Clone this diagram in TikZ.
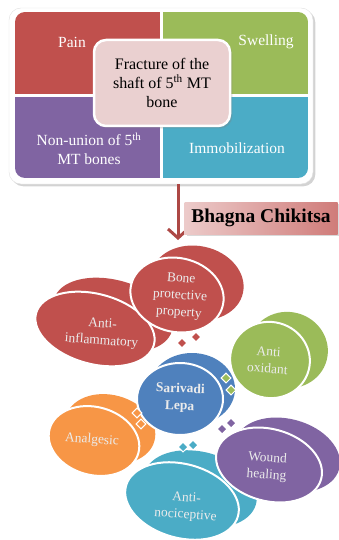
\documentclass[tikz,border=0pt]{standalone}
\usepackage{fontspec}
\setmainfont{Liberation Serif}
\usetikzlibrary{shapes.geometric,shadows,arrows.meta}
\definecolor{officeRed}{RGB}{192,80,77}
\definecolor{officeGreen}{RGB}{155,187,89}
\definecolor{officePurple}{RGB}{128,100,162}
\definecolor{officeTeal}{RGB}{75,172,198}
\definecolor{officeBlue}{RGB}{79,129,189}
\definecolor{officeOrange}{RGB}{247,150,70}
\definecolor{fracturePink}{RGB}{234,208,208}
\tikzset{
  quadText/.style={text=white,font=\fontsize{15.5}{19}\selectfont,align=center},
  bubbleBack/.style={ellipse,inner sep=0pt},
  bubbleFront/.style={ellipse,inner sep=0pt,draw=white,line width=2pt},
  bubbleText/.style={text=white!92!black,font=\fontsize{13.5}{17}\selectfont,align=center,rotate=-4,inner sep=1pt},
  toothPiece/.style={rectangle,minimum size=7pt,inner sep=0pt,draw=white,line width=1pt,rotate=45}
}
% #1 name, #2 colour, #3/#4 centre, #5/#6 size, #7/#8 offset of back, #9 tilt
\newcommand{\BubblePair}[9]{%
  \node[bubbleBack,fill=#2,minimum width=#5pt,minimum height=#6pt,rotate=#9] (#1Back) at (#3+#7,#4+#8) {};
  \node[bubbleFront,fill=#2,minimum width=#5pt,minimum height=#6pt,rotate=#9] (#1) at (#3,#4) {};}

\begin{document}
\begin{tikzpicture}[x=1pt,y=-1pt]
\useasboundingbox (0,0) rectangle (339,540);

% top panel
\node[draw=black!12,fill=white,rounded corners=12pt,minimum width=304pt,minimum height=176pt,
      drop shadow={opacity=0.35}] (topFrame) at (161,96) {};
\begin{scope}
  \clip[rounded corners=10pt] (15,12) rectangle (308,178);
  \fill[officeRed] (15,12) rectangle (160,94);
  \fill[officeGreen] (163,12) rectangle (308,94);
  \fill[officePurple] (15,97) rectangle (160,178);
  \fill[officeTeal] (163,97) rectangle (308,178);
\end{scope}
\node[quadText] (painText) at (72,42) {Pain};
\node[quadText] (swellingText) at (266,42) {Swelling};
\node[quadText] (nonunionText) at (89,149) {Non-union of 5\textsuperscript{th}\\MT bones};
\node[quadText] (immobText) at (237,148) {Immobilization};
\node[draw=white,line width=2.5pt,fill=fracturePink,rounded corners=12pt,minimum width=136pt,
      minimum height=86pt,align=center,font=\fontsize{16}{19}\selectfont,
      drop shadow={opacity=0.3}] (fractureBox) at (162,83)
      {Fracture of the\\shaft of 5\textsuperscript{th} MT\\bone};

% arrow and banner
\coordinate (arrowEnd) at (178,240);
\draw[officeRed!90!black,line width=3pt,-{Straight Barb[length=9pt,width=20pt]}]
  (arrowEnd |- topFrame.south) -- (arrowEnd);
\node[minimum width=153pt,minimum height=32pt,left color=officeRed!30!white,
      middle color=officeRed!12!white,right color=officeRed!75!white,
      font=\bfseries\fontsize{19.5}{22}\selectfont,drop shadow={opacity=0.3}]
      (chikitsaBanner) at (261,218) {Bhagna Chikitsa};

% bubbles
\BubblePair{inflamBubble}{officeRed}{95}{329}{122}{70}{18}{-14}{-15}
\BubblePair{boneBubble}{officeRed}{177}{295}{94}{74}{20}{-12}{-12}
\BubblePair{analgesicBubble}{officeOrange}{94}{441}{92}{68}{16}{-12}{-15}
\BubblePair{nociBubble}{officeTeal}{182}{501}{116}{74}{18}{-12}{-15}
\BubblePair{woundBubble}{officePurple}{269}{465}{108}{72}{18}{-10}{-15}
\BubblePair{lepaBubble}{officeBlue}{180}{399}{86}{72}{12}{-10}{0}
\BubblePair{oxidantBubble}{officeGreen}{270}{360}{80}{76}{18}{-10}{-15}

\node[toothPiece,fill=officeRed] (redToothA) at (182,343) {};
\node[toothPiece,fill=officeRed] (redToothB) at (196,337) {};
\node[toothPiece,fill=officeGreen] (greenToothA) at (226,378) {};
\node[toothPiece,fill=officeGreen] (greenToothB) at (231,390) {};
\node[toothPiece,fill=officeOrange] (orangeToothA) at (137,413) {};
\node[toothPiece,fill=officeOrange] (orangeToothB) at (141,424) {};
\node[toothPiece,fill=officePurple] (purpleToothA) at (222,429) {};
\node[toothPiece,fill=officePurple] (purpleToothB) at (231,423) {};
\node[toothPiece,fill=officeTeal] (tealToothA) at (183,447) {};
\node[toothPiece,fill=officeTeal] (tealToothB) at (193,445) {};

\node[bubbleText] (boneText) at (180,296) {Bone\\protective\\property};
\node[bubbleText] (inflamText) at (102,333) {Anti-\\inflammatory};
\node[bubbleText] (oxidantText) at (268,360) {Anti\\oxidant};
\node[bubbleText,font=\bfseries\fontsize{13.5}{17}\selectfont,rotate=2] (lepaText) at (180,398) {Sarivadi\\Lepa};
\node[bubbleText] (analgesicText) at (92,440) {Analgesic};
\node[bubbleText] (woundText) at (267,467) {Wound\\healing};
\node[bubbleText] (nociText) at (186,507) {Anti-\\nociceptive};
\end{tikzpicture}
\end{document}
